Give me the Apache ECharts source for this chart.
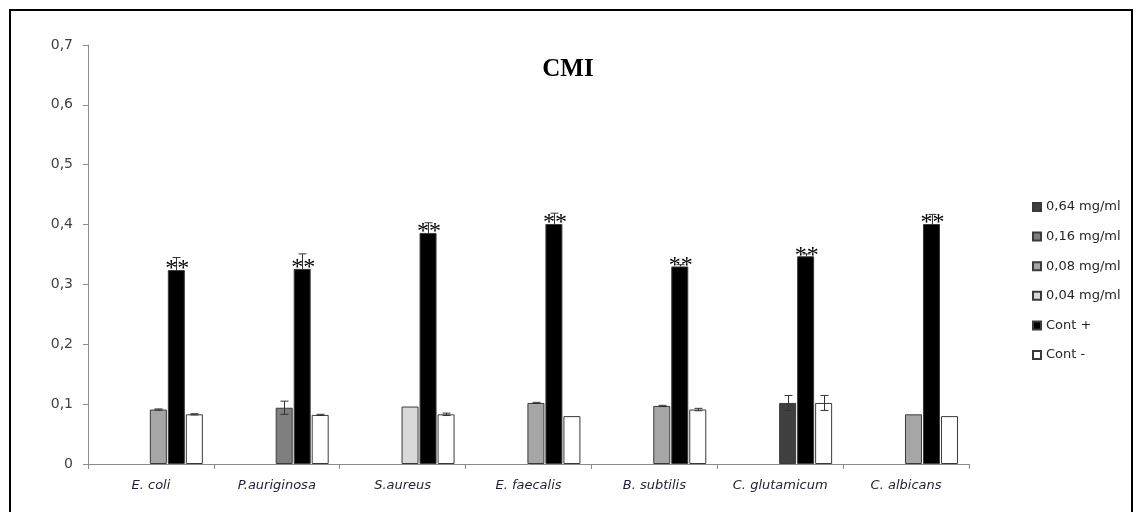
<!DOCTYPE html>
<html>
<head>
<meta charset="utf-8">
<script src="https://cdn.jsdelivr.net/npm/echarts@6/dist/echarts.min.js"></script>
<style>
  html, body { margin: 0; padding: 0; background: #ffffff; }
  #chart { width: 1136px; height: 512px; }
</style>
</head>
<body>
<div id="chart"></div>
<script>
// Organisms tested
const categories = ['E. coli', 'P.auriginosa', 'S.aureus', 'E. faecalis', 'B. subtilis', 'C. glutamicum', 'C. albicans'];

// Absorbance at the minimal inhibitory concentration (one concentration per organism)
const conc064 = [null, null, null, null, null, 0.102, null];
const conc016 = [null, 0.094, null, null, null, null, null];
const conc008 = [0.091, null, null, 0.102, 0.097, null, 0.083];
const conc004 = [null, null, 0.096, null, null, null, null];
const concErr = [0.001, 0.011, 0, 0.001, 0.001, 0.0125, 0];

// Controls
const contPlus = [0.324, 0.326, 0.386, 0.401, 0.330, 0.347, 0.401];
const contPlusErr = [0.021, 0.025, 0.017, 0.018, 0.003, 0.004, 0.016];
const contMinus = [0.083, 0.082, 0.083, 0.080, 0.091, 0.102, 0.080];
const contMinusErr = [0.001, 0.001, 0.002, 0, 0.002, 0.0125, 0];

// Significance marks drawn over the positive control
const signif = ['**', '**', '**', '**', '**', '**', '**'];

// y ticks
const yMin = 0, yMax = 0.7, yStep = 0.1;

// Bar slot geometry: 3 empty leading slots, then concentration, Cont +, Cont -
const SPACER_W = 16;
const BAR_W = 17;
const BAR_GAP = 1;
const slotWidths = [SPACER_W, SPACER_W, SPACER_W, BAR_W, BAR_W, BAR_W];
function slotOffset(i) {
  const total = slotWidths.reduce((a, b) => a + b, 0) + (slotWidths.length - 1) * BAR_GAP;
  let x = -total / 2;
  for (let k = 0; k < i; k++) x += slotWidths[k] + BAR_GAP;
  return x + slotWidths[i] / 2;
}
const GAP_PCT = (BAR_GAP / BAR_W * 100) + '%';

const EDGE = '#3a3a3a';
const TXT = 'DejaVu Sans';

// Error bar records: [category index, value, error, slot, two-sided?]
const errData = [];
const concAll = categories.map((_, i) => [conc064[i], conc016[i], conc008[i], conc004[i]].find(v => v != null));
categories.forEach((_, i) => {
  if (concErr[i] > 0) errData.push([i, concAll[i], concErr[i], 3, 1]);
  if (contPlusErr[i] > 0) errData.push([i, contPlus[i], contPlusErr[i], 4, 0]);
  if (contMinusErr[i] > 0) errData.push([i, contMinus[i], contMinusErr[i], 5, 1]);
});

function renderErr(params, api) {
  const cat = api.value(0), v = api.value(1), e = api.value(2), slot = api.value(3), both = api.value(4);
  const hi = api.coord([cat, v + e]);
  const lo = api.coord([cat, both ? v - e : v]);
  const x = Math.round(hi[0] + slotOffset(slot)) + 0.5;
  const cap = 4;
  const style = { stroke: '#333333', lineWidth: 1 };
  const children = [
    { type: 'line', shape: { x1: x, y1: hi[1], x2: x, y2: lo[1] }, style },
    { type: 'line', shape: { x1: x - cap, y1: hi[1], x2: x + cap, y2: hi[1] }, style }
  ];
  if (both) children.push({ type: 'line', shape: { x1: x - cap, y1: lo[1], x2: x + cap, y2: lo[1] }, style });
  return { type: 'group', children };
}

function spacer() {
  return { type: 'bar', name: '', data: categories.map(() => null), barWidth: SPACER_W, barGap: GAP_PCT, silent: true };
}

function concSeries(name, data, color) {
  return {
    type: 'bar', name, data, stack: 'conc', barWidth: BAR_W, barGap: GAP_PCT,
    itemStyle: { color, borderColor: EDGE, borderWidth: 1 }
  };
}

const chart = echarts.init(document.getElementById('chart'), null, { renderer: 'canvas' });

chart.setOption({
  animation: false,
  backgroundColor: '#ffffff',
  title: {
    text: 'CMI',
    left: 'center',
    top: 52,
    textStyle: { fontFamily: 'Liberation Serif', fontWeight: 'bold', fontSize: 25, color: '#000' }
  },
  graphic: [{
    type: 'rect',
    shape: { x: 10, y: 10, width: 1122, height: 520 },
    style: { fill: 'none', stroke: '#000', lineWidth: 2 },
    silent: true
  }],
  legend: {
    orient: 'vertical',
    left: 1032,
    top: 200,
    padding: 0,
    itemWidth: 8,
    itemHeight: 8,
    itemGap: 15.6,
    icon: 'rect',
    data: ['0,64 mg/ml', '0,16 mg/ml', '0,08 mg/ml', '0,04 mg/ml', 'Cont +', 'Cont -'],
    textStyle: { fontFamily: TXT, fontSize: 13, color: '#262626', lineHeight: 14 }
  },
  grid: { left: 88, right: 167, top: 45, bottom: 48, containLabel: false },
  xAxis: {
    type: 'category',
    data: categories,
    axisLine: { lineStyle: { color: '#8c8c8c', width: 1 } },
    axisTick: { show: true, length: 5, lineStyle: { color: '#8c8c8c' } },
    axisLabel: { fontFamily: TXT, fontStyle: 'italic', fontSize: 13, color: '#1f1f33', margin: 15 },
    splitLine: { show: false }
  },
  yAxis: {
    type: 'value',
    min: yMin, max: yMax, interval: yStep,
    axisLine: { show: true, lineStyle: { color: '#8c8c8c', width: 1 } },
    axisTick: { show: true, length: 5, lineStyle: { color: '#8c8c8c' } },
    splitLine: { show: false },
    axisLabel: {
      fontFamily: TXT, fontSize: 14, color: '#404040', margin: 15,
      formatter: v => (v === 0 ? '0' : v.toFixed(1).replace('.', ','))
    }
  },
  series: [
    spacer(), spacer(), spacer(),
    concSeries('0,64 mg/ml', conc064, '#404040'),
    concSeries('0,16 mg/ml', conc016, '#7f7f7f'),
    concSeries('0,08 mg/ml', conc008, '#a6a6a6'),
    concSeries('0,04 mg/ml', conc004, '#d9d9d9'),
    {
      type: 'bar', name: 'Cont +', data: contPlus, barWidth: BAR_W, barGap: GAP_PCT,
      itemStyle: { color: '#000000', borderColor: EDGE, borderWidth: 1 },
      label: {
        show: true, position: 'top', distance: 0, offset: [1, 11],
        formatter: p => signif[p.dataIndex],
        fontFamily: 'Liberation Serif', fontSize: 24, color: '#000'
      }
    },
    {
      type: 'bar', name: 'Cont -', data: contMinus, barWidth: BAR_W, barGap: GAP_PCT,
      itemStyle: { color: '#ffffff', borderColor: EDGE, borderWidth: 1 }
    },
    {
      type: 'custom', name: 'err', data: errData, renderItem: renderErr,
      encode: { x: 0, y: 1 }, z: 5, silent: true
    }
  ]
});
</script>
</body>
</html>
